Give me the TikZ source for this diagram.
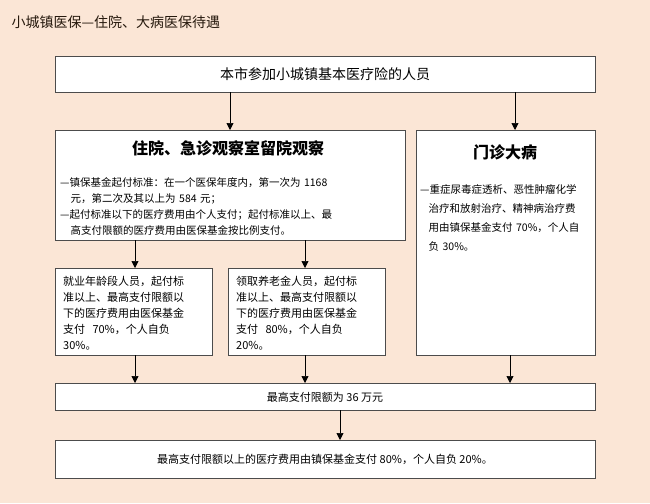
\documentclass[tikz,border=0pt]{standalone}
\usepackage{fontspec}
\setmainfont{Noto Sans CJK SC}
\usetikzlibrary{arrows.meta}
\definecolor{bgc}{RGB}{251,230,214}
\begin{document}
\begin{tikzpicture}[x=1pt,y=-1pt,
 box/.style={draw=black!70,fill=white,line width=0.8pt},
 txt/.style={align=left,font=\fontsize{11}{16}\selectfont,inner sep=0pt,anchor=north west},
 arr/.style={-{Triangle[length=7pt,width=7pt]},line width=0.7pt}]
\fill[bgc] (0,0) rectangle (650,503);
\node[anchor=west,font=\fontsize{14}{16}\selectfont,text=black!80!brown] (title) at (8,22) {小城镇医保—住院、大病医保待遇};
\draw[box] (55,56) rectangle (595,92);
\node (top) at (325,74) {\fontsize{14}{16}\selectfont 本市参加小城镇基本医疗险的人员};
\draw[box] (55,130) rectangle (405,240);
\node[font=\fontsize{16}{18}\selectfont\bfseries] (lh) at (228,148) {住院、急诊观察室留院观察};
\node[txt,text width=340pt,font=\fontsize{10.5}{16}\selectfont] (lt) at (60,177) {—镇保基金起付标准：在一个医保年度内，第一次为 1168\\\hspace*{1em}元，第二次及其以上为 584 元；\\—起付标准以下的医疗费用由个人支付；起付标准以上、最\\\hspace*{1em}高支付限额的医疗费用由医保基金按比例支付。};
\draw[box] (416,130) rectangle (595,355);
\node[font=\fontsize{16}{18}\selectfont\bfseries] (rh) at (505,152) {门诊大病};
\node[txt,text width=175pt,font=\fontsize{10.5}{19}\selectfont] (rt) at (420,184) {—重症尿毒症透析、恶性肿瘤化学\\\hspace*{0.8em}治疗和放射治疗、精神病治疗费\\\hspace*{0.8em}用由镇保基金支付 70\%，个人自\\\hspace*{0.8em}负 30\%。};
\draw[box] (55,268) rectangle (212,355);
\node[txt,text width=150pt] (s1) at (63,276) {就业年龄段人员，起付标\\准以上、最高支付限额以\\下的医疗费用由医保基金\\支付\ \ 70\%，个人自负\\30\%。};
\draw[box] (228,268) rectangle (385,355);
\node[txt,text width=150pt] (s2) at (236,276) {领取养老金人员，起付标\\准以上、最高支付限额以\\下的医疗费用由医保基金\\支付\ \ 80\%，个人自负\\20\%。};
\draw[box] (55,383) rectangle (595,410);
\node[font=\fontsize{11}{13}\selectfont] (m) at (325,397) {最高支付限额为 36 万元};
\draw[box] (55,440) rectangle (595,478);
\node[font=\fontsize{11}{13}\selectfont] (b) at (325,459) {最高支付限额以上的医疗费用由镇保基金支付 80\%，个人自负 20\%。};
\draw[arr] (230,92) -- (230,130);
\draw[arr] (515,92) -- (515,130);
\draw[arr] (135,240) -- (135,268);
\draw[arr] (305,240) -- (305,268);
\draw[arr] (135,355) -- (135,383);
\draw[arr] (305,355) -- (305,383);
\draw[arr] (510,355) -- (510,383);
\draw[arr] (340,410) -- (340,440);
\end{tikzpicture}
\end{document}
